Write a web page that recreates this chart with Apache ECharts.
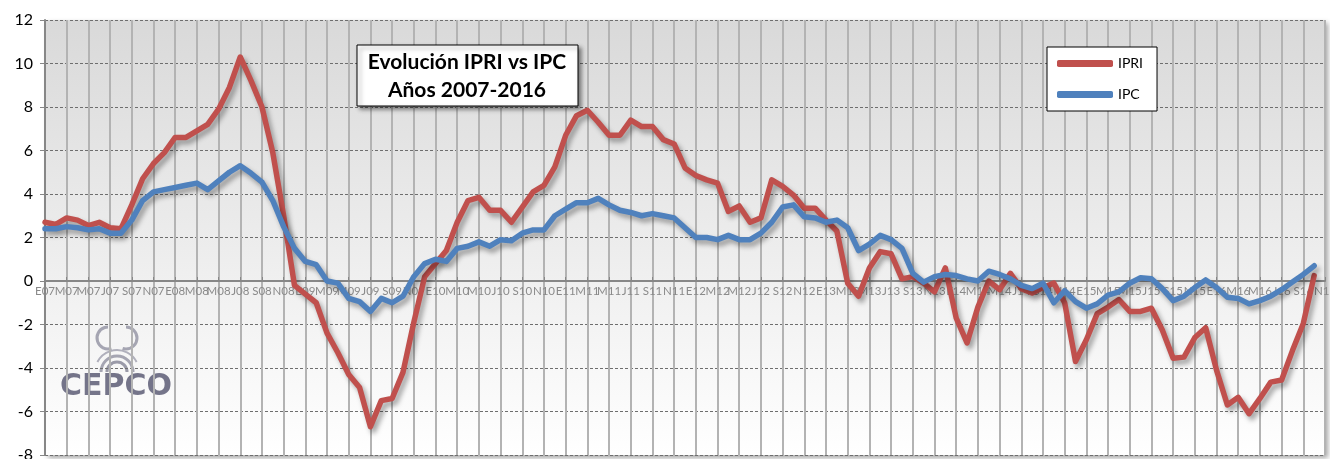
<!DOCTYPE html>
<html>
<head>
<meta charset="utf-8">
<script src="https://cdn.jsdelivr.net/npm/echarts@6/dist/echarts.min.js"></script>
<style>
  html, body { margin: 0; padding: 0; background: #fff; }
  #chart-box { width: 1330px; height: 459px; }
</style>
</head>
<body>
<div id="chart-box"></div>
<script>
// meses: E F M A M J J A S O N D
const categories = [
  'E07','F07','M07','A07','M07','J07','J07','A07','S07','O07','N07','D07',
  'E08','F08','M08','A08','M08','J08','J08','A08','S08','O08','N08','D08',
  'E09','F09','M09','A09','M09','J09','J09','A09','S09','O09','N09','D09',
  'E10','F10','M10','A10','M10','J10','J10','A10','S10','O10','N10','D10',
  'E11','F11','M11','A11','M11','J11','J11','A11','S11','O11','N11','D11',
  'E12','F12','M12','A12','M12','J12','J12','A12','S12','O12','N12','D12',
  'E13','F13','M13','A13','M13','J13','J13','A13','S13','O13','N13','D13',
  'E14','F14','M14','A14','M14','J14','J14','A14','S14','O14','N14','D14',
  'E15','F15','M15','A15','M15','J15','J15','A15','S15','O15','N15','D15',
  'E16','F16','M16','A16','M16','J16','J16','A16','S16','O16','N16'
]

const ipri = [
  2.7, 2.6, 2.9, 2.8, 2.55, 2.7, 2.45, 2.4, 3.5, 4.7, 5.4, 5.9,
  6.6, 6.6, 6.9, 7.2, 7.9, 8.9, 10.3, 9.2, 8.0, 5.9, 3.0, -0.2,
  -0.6, -1.0, -2.4, -3.3, -4.3, -4.9, -6.7, -5.5, -5.4, -4.2, -1.9, 0.2,
  0.8, 1.4, 2.7, 3.7, 3.85, 3.25, 3.25, 2.7, 3.4, 4.1, 4.4, 5.25,
  6.7, 7.6, 7.85, 7.3, 6.7, 6.7, 7.4, 7.1, 7.1, 6.5, 6.3, 5.2,
  4.85, 4.65, 4.5, 3.2, 3.45, 2.7, 2.9, 4.65, 4.35, 3.95, 3.35, 3.35,
  2.8, 2.3, -0.1, -0.7, 0.6, 1.35, 1.25, 0.1, 0.2, -0.1, -0.5, 0.6,
  -1.7, -2.85, -1.2, 0.0, -0.4, 0.35, -0.35, -0.55, -0.3, -0.1, -1.0, -3.7,
  -2.7, -1.5, -1.2, -0.85, -1.4, -1.4, -1.25, -2.25, -3.55, -3.5, -2.6, -2.15,
  -4.1, -5.7, -5.35, -6.1, -5.4, -4.65, -4.55, -3.2, -1.95, 0.25
]

const ipc = [
  2.4, 2.4, 2.5, 2.45, 2.35, 2.4, 2.2, 2.2, 2.8, 3.7, 4.1, 4.2,
  4.3, 4.4, 4.5, 4.2, 4.6, 5.0, 5.3, 4.95, 4.55, 3.7, 2.5, 1.5,
  0.9, 0.75, 0.0, -0.1, -0.8, -0.95, -1.4, -0.8, -1.0, -0.7, 0.2, 0.8,
  1.0, 0.9, 1.5, 1.6, 1.8, 1.6, 1.9, 1.85, 2.2, 2.35, 2.35, 3.0,
  3.3, 3.6, 3.6, 3.8, 3.5, 3.25, 3.15, 3.0, 3.1, 3.0, 2.9, 2.45,
  2.0, 2.0, 1.9, 2.1, 1.9, 1.9, 2.2, 2.7, 3.4, 3.5, 2.95, 2.9,
  2.7, 2.8, 2.45, 1.4, 1.7, 2.1, 1.9, 1.5, 0.35, -0.05, 0.2, 0.3,
  0.25, 0.1, 0.0, 0.45, 0.3, 0.1, -0.2, -0.35, -0.1, -1.0, -0.45, -0.95,
  -1.25, -1.05, -0.65, -0.5, -0.1, 0.15, 0.1, -0.35, -0.9, -0.7, -0.3, 0.05,
  -0.3, -0.75, -0.8, -1.05, -0.9, -0.7, -0.4, -0.05, 0.3, 0.7
]

const yMin = -8
const yMax = 12

const chart = echarts.init(document.getElementById('chart-box'))

const gridTop = 20
const gridBottom = 4
const plotHeight = 459 - gridTop - gridBottom
// el eje X (con sus etiquetas) va sobre la línea del cero
const zeroOffset = -plotHeight * (0 - yMin) / (yMax - yMin)

const lineShadow = {
  shadowColor: 'rgba(0,0,0,0.35)',
  shadowBlur: 5,
  shadowOffsetX: 3,
  shadowOffsetY: 4
}

const labelStyle = {
  color: '#8a8a8a',
  fontSize: 11.5,
  fontFamily: 'Lato',
  margin: 4,
  hideOverlap: false
}

const option = {
  backgroundColor: '#fff',
  animation: false,
  grid: {
    left: 45,
    right: 5,
    top: gridTop,
    bottom: gridBottom,
    outerBoundsMode: 'none',
    containLabel: false,
    show: true,
    borderWidth: 0,
    // fondo gris degradado
    backgroundColor: new echarts.graphic.LinearGradient(0, 0, 0, 1, [
      { offset: 0, color: '#d9d9d9' },
      { offset: 1, color: '#ffffff' }
    ]),
    shadowColor: 'rgba(0,0,0,0.35)',
    shadowBlur: 5,
    shadowOffsetX: 3,
    shadowOffsetY: 3
  },
  legend: {
    orient: 'vertical',
    left: 1047,
    top: 47,
    data: ['IPRI', 'IPC'],
    icon: 'roundRect',
    itemWidth: 56,
    itemHeight: 7,
    itemGap: 14,
    padding: [8, 14, 8, 10],
    backgroundColor: '#fff',
    borderColor: '#000',
    borderWidth: 1,
    textStyle: { color: '#000', fontSize: 14, fontFamily: 'Lato', lineHeight: 17 }
  },
  xAxis: [
    {
      type: 'category',
      data: categories,
      boundaryGap: false,
      offset: zeroOffset,
      axisLine: { onZero: false, lineStyle: { color: '#878787', width: 2 } },
      axisTick: { show: true, interval: 1, inside: true, length: 4, lineStyle: { color: '#878787' } },
      axisLabel: Object.assign({
        interval: 1,
        // la primera va vacía: la pinta el segundo eje
        formatter: function (value, index) { return index === 0 ? ' ' : value }
      }, labelStyle),
      splitLine: { show: true, interval: 1, lineStyle: { color: '#b3b3b3', width: 2 } }
    },
    {
      // solo la primera etiqueta (E07), para que no la oculte el control de solapes
      type: 'category',
      data: categories,
      boundaryGap: false,
      position: 'bottom',
      offset: zeroOffset,
      axisLine: { show: false, onZero: false },
      axisTick: { show: false },
      splitLine: { show: false },
      axisLabel: Object.assign({
        interval: function (index) { return index === 0 },
        showMinLabel: true
      }, labelStyle)
    }
  ],
  yAxis: {
    type: 'value',
    min: yMin,
    max: yMax,
    interval: 2,
    axisLine: { show: true, lineStyle: { color: '#878787', width: 2 } },
    axisTick: { show: true, length: 5, lineStyle: { color: '#878787' } },
    axisLabel: { color: '#000', fontSize: 16, fontFamily: 'Lato', margin: 12 },
    splitLine: { lineStyle: { color: '#6e6e6e', width: 1, type: [3, 2] } }
  },
  series: [
    {
      name: 'IPRI',
      type: 'line',
      data: ipri,
      symbol: 'none',
      color: '#c0504d',
      lineStyle: Object.assign({ width: 5.5, color: '#c0504d', cap: 'round', join: 'round' }, lineShadow)
    },
    {
      name: 'IPC',
      type: 'line',
      data: ipc,
      symbol: 'none',
      color: '#4f81bd',
      lineStyle: Object.assign({ width: 5.5, color: '#4f81bd', cap: 'round', join: 'round' }, lineShadow)
    }
  ],
  graphic: [
    // cuadro de título
    {
      type: 'rect',
      shape: { x: 357, y: 45, width: 221, height: 61 },
      style: {
        fill: '#fff', stroke: '#000', lineWidth: 1,
        shadowColor: 'rgba(0,0,0,0.45)', shadowBlur: 4, shadowOffsetX: 3, shadowOffsetY: 3
      },
      z: 100
    },
    {
      type: 'text',
      x: 467,
      y: 76,
      style: {
        text: 'Evolución IPRI vs IPC\nAños 2007-2016',
        fill: '#000',
        font: 'bold 21px Lato',
        lineHeight: 28,
        align: 'center',
        verticalAlign: 'middle'
      },
      z: 101
    },
    // logo CEPCO
    {
      type: 'group',
      z: 5,
      children: [
        { type: 'arc', shape: { cx: 117, cy: 372, r: 10, startAngle: Math.PI, endAngle: 0 }, style: { stroke: '#9a9aa8', lineWidth: 3, fill: null } },
        { type: 'arc', shape: { cx: 117, cy: 372, r: 16, startAngle: Math.PI, endAngle: 0 }, style: { stroke: '#a5a5b2', lineWidth: 3, fill: null } },
        { type: 'arc', shape: { cx: 117, cy: 372, r: 22, startAngle: Math.PI * 1.15, endAngle: Math.PI * 1.85 }, style: { stroke: '#b0b0bc', lineWidth: 2, fill: null } },
        { type: 'arc', shape: { cx: 108, cy: 338, r: 11, startAngle: Math.PI * 0.4, endAngle: Math.PI * 1.5 }, style: { stroke: '#a5a5b2', lineWidth: 3, fill: null } },
        { type: 'arc', shape: { cx: 126, cy: 338, r: 11, startAngle: Math.PI * 1.5, endAngle: Math.PI * 0.6 }, style: { stroke: '#a5a5b2', lineWidth: 3, fill: null } },
        {
          type: 'text',
          x: 60,
          y: 372,
          style: { text: 'CEPCO', fill: '#5d5d75', font: 'bold 30px "DejaVu Sans"', opacity: 0.85 }
        }
      ]
    }
  ]
}

chart.setOption(option)
</script>
</body>
</html>
